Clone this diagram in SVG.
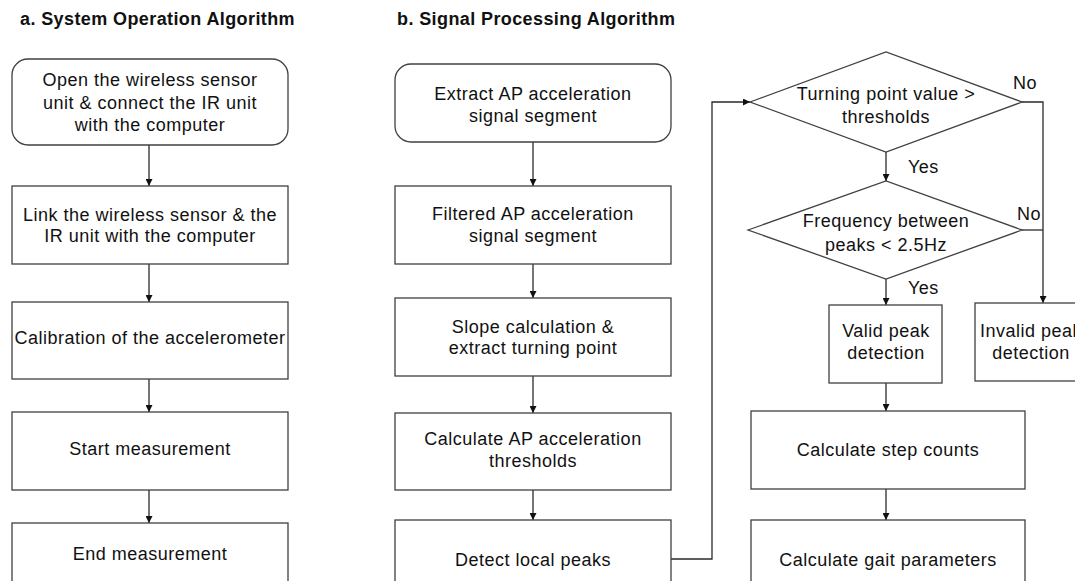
<svg xmlns="http://www.w3.org/2000/svg" width="1075" height="581" viewBox="0 0 1075 581">
<style>
.box{fill:#fff;stroke:#404040;stroke-width:1.3}
.t{font-family:"Liberation Sans",Arial,sans-serif;font-size:18px;letter-spacing:0.5px;fill:#111;text-anchor:middle}
.lbl{font-family:"Liberation Sans",Arial,sans-serif;font-size:18px;letter-spacing:0.5px;fill:#111}
.h{font-family:"Liberation Sans",Arial,sans-serif;font-size:18px;font-weight:bold;letter-spacing:0.4px;fill:#111}
.c{fill:none;stroke:#2a2a2a;stroke-width:1.3}
</style>
<defs>
<marker id="ah" markerWidth="7" markerHeight="7" refX="7" refY="3.5" orient="auto" markerUnits="userSpaceOnUse">
<path d="M0,0 L7,3.5 L0,7 z" fill="#111"/>
</marker>
</defs>
<rect width="1075" height="581" fill="#fff"/>
<text class="h" x="20" y="25">a. System Operation Algorithm</text>
<text class="h" x="397" y="25">b. Signal Processing Algorithm</text>

<g id="connectors">
<line class="c" x1="149" y1="145" x2="149" y2="186" marker-end="url(#ah)"/>
<line class="c" x1="149" y1="264" x2="149" y2="302" marker-end="url(#ah)"/>
<line class="c" x1="149" y1="379" x2="149" y2="412" marker-end="url(#ah)"/>
<line class="c" x1="149" y1="490" x2="149" y2="523" marker-end="url(#ah)"/>
<line class="c" x1="533" y1="142" x2="533" y2="186" marker-end="url(#ah)"/>
<line class="c" x1="533" y1="264" x2="533" y2="298" marker-end="url(#ah)"/>
<line class="c" x1="533" y1="376" x2="533" y2="413" marker-end="url(#ah)"/>
<line class="c" x1="533" y1="490" x2="533" y2="520" marker-end="url(#ah)"/>
<polyline class="c" points="671,559 712,559 712,102 750,102" marker-end="url(#ah)"/>
<line class="c" x1="886" y1="152" x2="886" y2="181" marker-end="url(#ah)"/>
<line class="c" x1="886" y1="279" x2="886" y2="305" marker-end="url(#ah)"/>
<polyline class="c" points="1022,102 1043,102 1043,303" marker-end="url(#ah)"/>
<polyline class="c" points="1022,230 1043,230"/>
<line class="c" x1="886" y1="383" x2="886" y2="411" marker-end="url(#ah)"/>
<line class="c" x1="886" y1="489" x2="886" y2="520" marker-end="url(#ah)"/>
<text class="lbl" x="1013" y="89">No</text>
<text class="lbl" x="1017" y="220">No</text>
<text class="lbl" x="908" y="173">Yes</text>
<text class="lbl" x="908" y="294">Yes</text>
</g>

<g id="a1">
<rect class="box" x="12" y="59" width="276" height="86" rx="16"/>
<text class="t" x="150" y="86">Open the wireless sensor</text>
<text class="t" x="150" y="108.5">unit &amp; connect the IR unit</text>
<text class="t" x="150" y="131">with the computer</text>
</g>
<g id="a2">
<rect class="box" x="12" y="186" width="276" height="78"/>
<text class="t" x="150" y="221">Link the wireless sensor &amp; the</text>
<text class="t" x="150" y="242">IR unit with the computer</text>
</g>
<g id="a3">
<rect class="box" x="12" y="302" width="276" height="77"/>
<text class="t" x="150" y="344">Calibration of the accelerometer</text>
</g>
<g id="a4">
<rect class="box" x="12" y="412" width="276" height="78"/>
<text class="t" x="150" y="455">Start measurement</text>
</g>
<g id="a5">
<rect class="box" x="12" y="523" width="276" height="80"/>
<text class="t" x="150" y="560">End measurement</text>
</g>

<g id="b1">
<rect class="box" x="395" y="64" width="276" height="78" rx="16"/>
<text class="t" x="533" y="100">Extract AP acceleration</text>
<text class="t" x="533" y="122">signal segment</text>
</g>
<g id="b2">
<rect class="box" x="395" y="186" width="276" height="78"/>
<text class="t" x="533" y="220">Filtered AP acceleration</text>
<text class="t" x="533" y="242">signal segment</text>
</g>
<g id="b3">
<rect class="box" x="395" y="298" width="276" height="78"/>
<text class="t" x="533" y="333">Slope calculation &amp;</text>
<text class="t" x="533" y="354">extract turning point</text>
</g>
<g id="b4">
<rect class="box" x="395" y="413" width="276" height="77"/>
<text class="t" x="533" y="445">Calculate AP acceleration</text>
<text class="t" x="533" y="467">thresholds</text>
</g>
<g id="b5">
<rect class="box" x="395" y="520" width="276" height="85"/>
<text class="t" x="533" y="566">Detect local peaks</text>
</g>

<g id="d1">
<polygon class="box" points="750,102 886,52 1022,102 886,152"/>
<text class="t" x="886" y="100">Turning point value &gt;</text>
<text class="t" x="886" y="123">thresholds</text>
</g>
<g id="d2">
<polygon class="box" points="748,230 886,181 1022,230 886,279"/>
<text class="t" x="886" y="227">Frequency between</text>
<text class="t" x="886" y="251">peaks &lt; 2.5Hz</text>
</g>
<g id="valid">
<rect class="box" x="829" y="305" width="113" height="78"/>
<text class="t" x="886" y="337">Valid peak</text>
<text class="t" x="886" y="359">detection</text>
</g>
<g id="invalid">
<rect class="box" x="975" y="303" width="113" height="78"/>
<text class="t" x="1031" y="337">Invalid peak</text>
<text class="t" x="1031" y="359">detection</text>
</g>
<g id="c1">
<rect class="box" x="751" y="411" width="274" height="78"/>
<text class="t" x="888" y="456">Calculate step counts</text>
</g>
<g id="c2">
<rect class="box" x="751" y="520" width="274" height="85"/>
<text class="t" x="888" y="566">Calculate gait parameters</text>
</g>
</svg>
